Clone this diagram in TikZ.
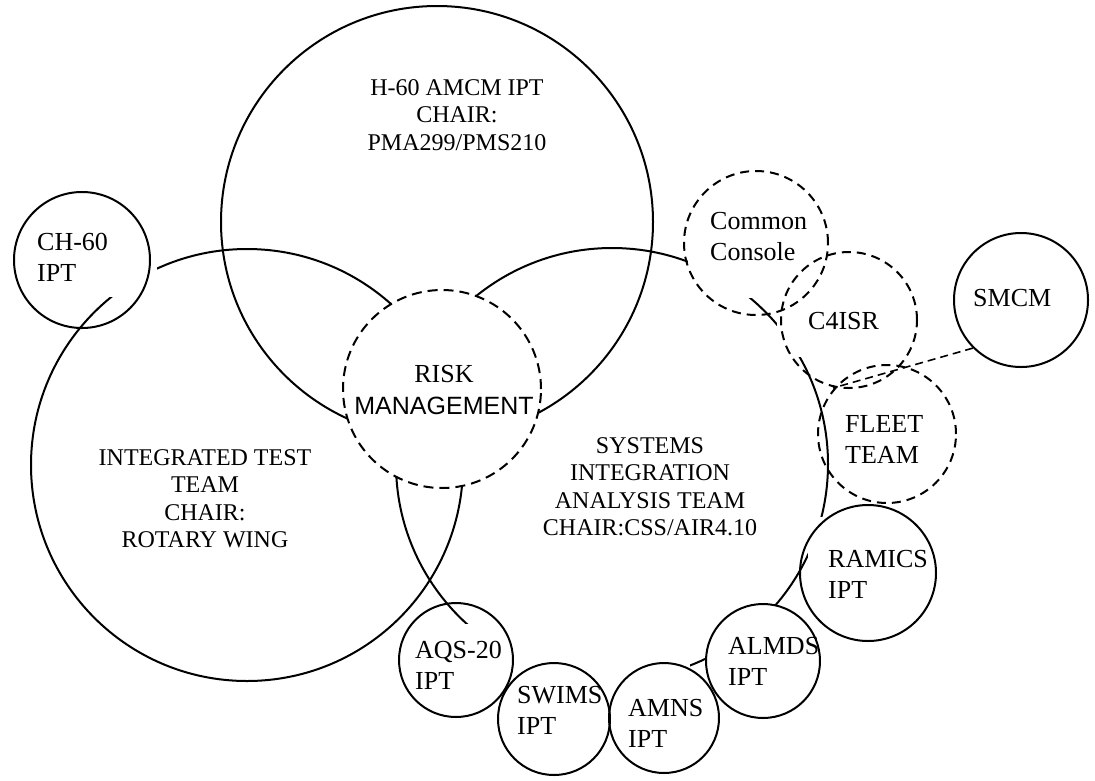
\documentclass[tikz,border=0pt]{standalone}
\usepackage{fontspec}
\setmainfont{Liberation Serif}
\newfontfamily\arialfont{Liberation Sans}
\begin{document}
\begin{tikzpicture}[x=1pt,y=-1pt,
  ring/.style={circle, draw, line width=2pt, inner sep=0pt},
  dring/.style={ring, dash pattern=on 9pt off 6pt},
  teamtxt/.style={align=center, inner sep=0pt, anchor=north, font=\fontsize{24}{27.6}\selectfont},
  ipttxt/.style={align=left, inner sep=0pt, anchor=north west, font=\fontsize{26}{31}\selectfont},
  mask/.style={fill=white}]
\useasboundingbox (0,0) rectangle (1095,780);

\node[ring, minimum size=432pt] (h60) at (437,222) {};
\node[ring, minimum size=432pt] (itt) at (247,465) {};
\node[ring, minimum size=432pt] (siat) at (612,464) {};
\node[ring, dash pattern=on 10pt off 6pt, fill=white, minimum size=198pt] (risk) at (442,389) {};

\fill[mask] (30,217) rectangle (157,297);
\fill[mask] (688,178) rectangle (828,298);
\fill[mask] (777,290) rectangle (915,357);
\fill[mask] (838,400) rectangle (950,480);
\fill[mask] (808,517) rectangle (935,615);
\fill[mask] (707,605) rectangle (818,700);
\fill[mask] (600,662) rectangle (690,760);
\fill[mask] (505,648) rectangle (602,745);
\fill[mask] (405,624) rectangle (510,700);

\node[teamtxt] (h60txt) at (457,79) {H-60 AMCM IPT\\CHAIR:\\PMA299/PMS210};
\node[teamtxt] (itttxt) at (205,449) {INTEGRATED TEST\\TEAM\\CHAIR:\\ROTARY WING};
\node[teamtxt] (siattxt) at (650,437) {SYSTEMS\\INTEGRATION\\ANALYSIS TEAM\\CHAIR:CSS/AIR4.10};
\node[align=center, inner sep=0pt, anchor=north, font=\fontsize{26}{32}\selectfont] (risktxt) at (444,365)
  {RISK\\{\arialfont\fontsize{25}{32}\selectfont MANAGEMENT}};

\node[ipttxt] (ch60txt) at (37,233.5) {CH-60\\IPT};
\node[ipttxt] (cctxt) at (710,212.5) {Common\\Console};
\node[ipttxt] (c4txt) at (808,312.5) {C4ISR};
\node[ipttxt] (smcmtxt) at (973,289.5) {SMCM};
\node[ipttxt] (fleettxt) at (845,415.5) {FLEET\\TEAM};
\node[ipttxt] (ramicstxt) at (828,550.5) {RAMICS\\IPT};
\node[ipttxt] (almdstxt) at (728,637.5) {ALMDS\\IPT};
\node[ipttxt] (amnstxt) at (628,699.5) {AMNS\\IPT};
\node[ipttxt] (swimstxt) at (517,686.5) {SWIMS\\IPT};
\node[ipttxt] (aqstxt) at (415,640.5) {AQS-20\\IPT};

\node[ring, minimum size=136pt] (ch60) at (82,260) {};
\node[dring, minimum size=144pt] (cc) at (756,243) {};
\node[dring, minimum size=136pt] (c4isr) at (849,320) {};
\node[ring, minimum size=134pt] (smcm) at (1021,300) {};
\node[dring, minimum size=138pt] (fleet) at (887,434) {};
\node[ring, minimum size=136pt] (ramics) at (868,573) {};
\node[ring, minimum size=114pt] (almds) at (763,661) {};
\node[ring, minimum size=110pt] (amns) at (664,718) {};
\node[ring, minimum size=112pt] (swims) at (554,719) {};
\node[ring, minimum size=114pt] (aqs) at (456,660) {};

\coordinate (fleetend) at (833,388);
\draw[line width=1.6pt, dash pattern=on 8pt off 5pt] (smcm.225) -- (fleetend);
\end{tikzpicture}
\end{document}
